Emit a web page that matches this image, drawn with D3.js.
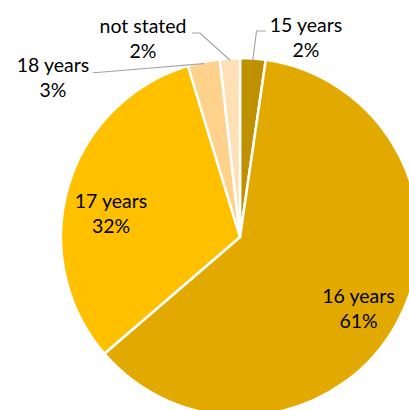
<!DOCTYPE html>
<html>
<head>
<meta charset="utf-8">
<script src="https://cdn.jsdelivr.net/npm/d3@7/dist/d3.min.js"></script>
<style>
  html, body { margin: 0; padding: 0; background: #fff; overflow: hidden; }
  svg { display: block; }
  text { font-family: Lato, "Open Sans", sans-serif; font-size: 19.5px; fill: #000; }
</style>
</head>
<body>
<svg id="chart" width="409" height="410"></svg>
<script>
// Age at enrolment, share of students (%)
const categories = ["15 years", "16 years", "17 years", "18 years", "not stated"];
const shares = [2.3, 61.4, 31.6, 2.9, 1.8];
const colors = ["#BF9000", "#E2AA00", "#FFC000", "#FFD28C", "#FFE0B6"];

// Label anchor: horizontal centre and baseline of the first line
const labelPos = [[306, 32], [358.5, 303], [111, 208], [53, 72], [143, 33]];
const leaders = [
  [[256.5, 31], [266, 31]],
  null,
  null,
  [[97, 72.5], [93, 72.5]],
  [[200, 33], [192, 33]]
];

const width = 409, height = 410;
const cx = 240, cy = 237, radius = 179;

const svg = d3.select("#chart");
const g = svg.append("g").attr("transform", `translate(${cx},${cy})`);

const pie = d3.pie().sort(null).value(d => d.value);
const arcs = pie(categories.map((c, i) => ({ name: c, value: shares[i], color: colors[i] })));

const arc = d3.arc().innerRadius(0).outerRadius(radius);

g.selectAll("path.slice")
  .data(arcs)
  .join("path")
  .attr("class", "slice")
  .attr("d", arc)
  .attr("fill", d => d.data.color)
  .attr("stroke", "#fff")
  .attr("stroke-width", 2.5)
  .attr("stroke-linejoin", "round");

// Leader lines from slice edge to small outside labels
arcs.forEach((d, i) => {
  if (!leaders[i]) return;
  const mid = (d.startAngle + d.endAngle) / 2;
  const r0 = radius - 2;
  const start = [cx + r0 * Math.sin(mid), cy - r0 * Math.cos(mid)];
  const pts = [start].concat(leaders[i]);
  svg.append("path")
    .attr("d", d3.line()(pts))
    .attr("fill", "none")
    .attr("stroke", "#A6A6A6")
    .attr("stroke-width", 1.2);
});

// Category and percentage labels
arcs.forEach((d, i) => {
  const [x, y] = labelPos[i];
  const t = svg.append("text").attr("text-anchor", "middle");
  t.append("tspan").attr("x", x).attr("y", y).text(d.data.name);
  t.append("tspan").attr("x", x).attr("y", y + 24.5).text(Math.round(d.data.value) + "%");
});
</script>
</body>
</html>
